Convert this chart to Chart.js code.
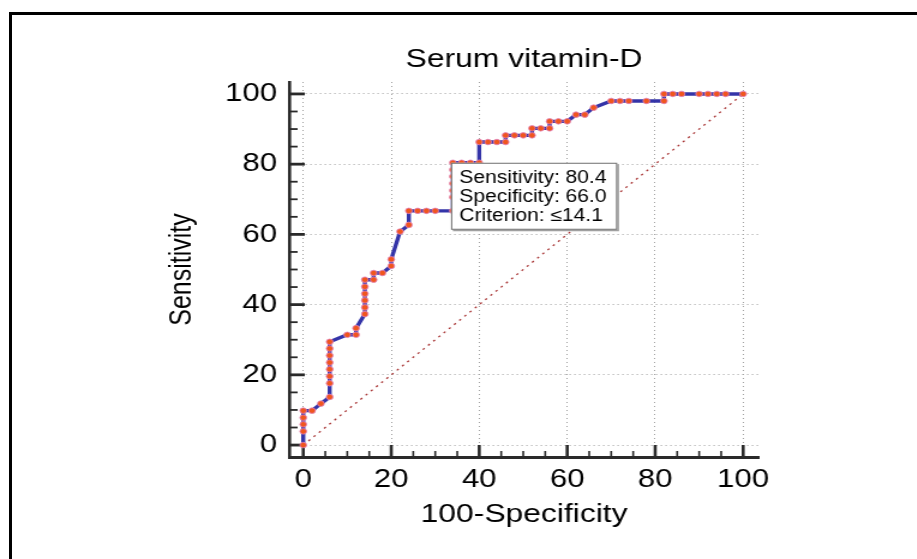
<!DOCTYPE html>
<html>
<head>
<meta charset="utf-8">
<script src="https://cdn.jsdelivr.net/npm/chart.js@4"></script>
<style>
  html, body { margin: 0; padding: 0; background: #fff; }
  body { width: 917px; height: 559px; position: relative; overflow: hidden; }
  #frame {
    position: absolute; left: 9px; top: 12px; right: 0; bottom: 0;
    border-left: 3px solid #000; border-top: 3px solid #000;
  }
  /* the source picture is stretched sideways, so the chart is too */
  #wrap {
    position: absolute; left: 0; top: 0; width: 764px; height: 559px;
    transform: scaleX(1.2); transform-origin: 0 0;
  }
</style>
</head>
<body>
<div id="frame"></div>
<div id="wrap"><canvas id="roc"></canvas></div>
<script>
const FONT = '"Liberation Sans", Arial, sans-serif';

// ROC points: x = 100-Specificity, y = Sensitivity
const rocX = [
  0, 0, 0, 0, 0,
  2, 4,
  6, 6, 6, 6, 6, 6, 6, 6,
  10, 12, 12,
  14, 14, 14, 14, 14, 14,
  16, 16, 18,
  20, 20, 22, 24, 24,
  26, 28, 30,
  34, 34, 34, 34, 34, 34, 34,
  36, 38, 40,
  40, 42, 44, 46,
  46, 48, 50, 52,
  52, 54, 56,
  56, 58, 60,
  62, 64, 66,
  70, 72, 74, 78, 82,
  82, 84, 86, 90, 92, 94, 96, 100,
];
const rocY = [
  0, 3.9, 5.9, 7.8, 9.8,
  9.8, 11.8,
  13.7, 17.6, 19.6, 21.6, 23.5, 25.5, 27.5, 29.4,
  31.4, 31.4, 33.3,
  37.3, 39.2, 41.2, 43.1, 45.1, 47.1,
  47.1, 49.0, 49.0,
  51.0, 52.9, 60.8, 62.7, 66.7,
  66.7, 66.7, 66.7,
  66.7, 70.6, 72.5, 74.5, 76.5, 78.4, 80.4,
  80.4, 80.4, 80.4,
  86.3, 86.3, 86.3, 86.3,
  88.2, 88.2, 88.2, 88.2,
  90.2, 90.2, 90.2,
  92.2, 92.2, 92.2,
  94.1, 94.1, 96.1,
  98.0, 98.0, 98.0, 98.0, 98.0,
  100, 100, 100, 100, 100, 100, 100, 100,
];
const diagX = [0, 100];
const diagY = [0, 100];

const tickValues = [0, 20, 40, 60, 80, 100];
const minorStep = 5;

// optimal criterion
const critX = 34;
const critSens = 80.4;
const critSpec = 66.0;
const critText = "\u226414.1";

const infoLines = [
  "Sensitivity: " + critSens.toFixed(1),
  "Specificity: " + critSpec.toFixed(1),
  "Criterion: " + critText,
];

Chart.defaults.font.family = FONT;
Chart.defaults.color = "#000";

const fixedTicks = (scale) => {
  scale.ticks = tickValues.map((v) => ({ value: v }));
};

// tick marks point inward from the axis lines
const innerTicks = {
  id: "innerTicks",
  beforeDatasetsDraw(chart) {
    const { ctx, scales: { x, y } } = chart;
    ctx.save();
    ctx.strokeStyle = "#2a2a2a";
    for (let v = 0; v <= 100; v += minorStep) {
      const major = tickValues.includes(v);
      const px = x.getPixelForValue(v);
      ctx.lineWidth = major ? 2.6 : 1.6;
      ctx.beginPath();
      ctx.moveTo(px, x.top);
      ctx.lineTo(px, x.top - (major ? 12 : 6));
      ctx.stroke();

      const py = y.getPixelForValue(v);
      ctx.lineWidth = major ? 2.8 : 1.8;
      ctx.beginPath();
      ctx.moveTo(y.right, py);
      ctx.lineTo(y.right + (major ? 13 : 7), py);
      ctx.stroke();
    }
    ctx.restore();
  },
};

// info box hung from the criterion point
const criterionBox = {
  id: "criterionBox",
  afterDatasetsDraw(chart) {
    const { ctx, scales: { x, y } } = chart;
    const left = x.getPixelForValue(critX) - 1.5;
    const top = y.getPixelForValue(critSens);
    const w = 138.5, h = 67;
    ctx.save();
    ctx.fillStyle = "#a0a0a0";
    ctx.fillRect(left + 1.5, top + 1.5, w, h);
    ctx.fillStyle = "#fff";
    ctx.fillRect(left, top, w, h);
    ctx.strokeStyle = "#6e6e6e";
    ctx.lineWidth = 1;
    ctx.strokeRect(left + 0.5, top + 0.5, w - 1, h - 1);
    ctx.fillStyle = "#000";
    ctx.font = "17.5px " + FONT;
    ctx.textBaseline = "alphabetic";
    infoLines.forEach((t, i) => ctx.fillText(t, left + 7, top + 20.5 + i * 19));
    ctx.restore();
  },
};

const gridOpts = { color: "#a0a0a0", lineWidth: 1, drawTicks: false, borderDash: [1, 3] };

new Chart(document.getElementById("roc"), {
  type: "scatter",
  data: {
    datasets: [
      {
        data: rocX.map((x, i) => ({ x, y: rocY[i] })),
        showLine: true,
        borderColor: "#3434a8",
        borderWidth: 3.4,
        pointRadius: 2.8,
        pointBackgroundColor: "#f0561e",
        pointBorderColor: "rgba(225,130,190,0.8)",
        pointBorderWidth: 1,
      },
      {
        data: diagX.map((x, i) => ({ x, y: diagY[i] })),
        showLine: true,
        borderColor: "#a83434",
        borderWidth: 1.3,
        borderDash: [2, 4],
        pointRadius: 0,
      },
    ],
  },
  options: {
    responsive: true,
    maintainAspectRatio: false,
    animation: false,
    layout: { padding: { left: 137.5, right: 131.5, top: 0, bottom: 0 } },
    plugins: {
      legend: { display: false },
      tooltip: { enabled: false },
      title: {
        display: true,
        text: "Serum vitamin-D",
        fullSize: false,
        color: "#000",
        font: { size: 26.5, weight: "normal" },
        padding: { top: 43.9, bottom: 6.3 },
      },
    },
    scales: {
      x: {
        type: "linear",
        min: -3.2,
        max: 103.6,
        afterBuildTicks: fixedTicks,
        afterFit: (s) => { s.height = 102; },
        grid: gridOpts,
        border: { color: "#2a2a2a", width: 3, dash: [1, 3] },
        ticks: { padding: 7, maxRotation: 0, font: { size: 26 } },
        title: {
          display: true,
          text: "100-Specificity",
          font: { size: 26.5 },
          padding: { top: 0, bottom: 28.4 },
        },
      },
      y: {
        type: "linear",
        min: -3.4,
        max: 103.4,
        afterBuildTicks: fixedTicks,
        afterFit: (s) => { s.width = 103.5; },
        grid: gridOpts,
        border: { color: "#2a2a2a", width: 2.6, dash: [1, 3] },
        ticks: { padding: 10, font: { size: 26 } },
        title: {
          display: true,
          text: "Sensitivity",
          font: { size: 25 },
          padding: { top: 0, bottom: 0 },
        },
      },
    },
  },
  plugins: [innerTicks, criterionBox],
});
</script>
</body>
</html>
